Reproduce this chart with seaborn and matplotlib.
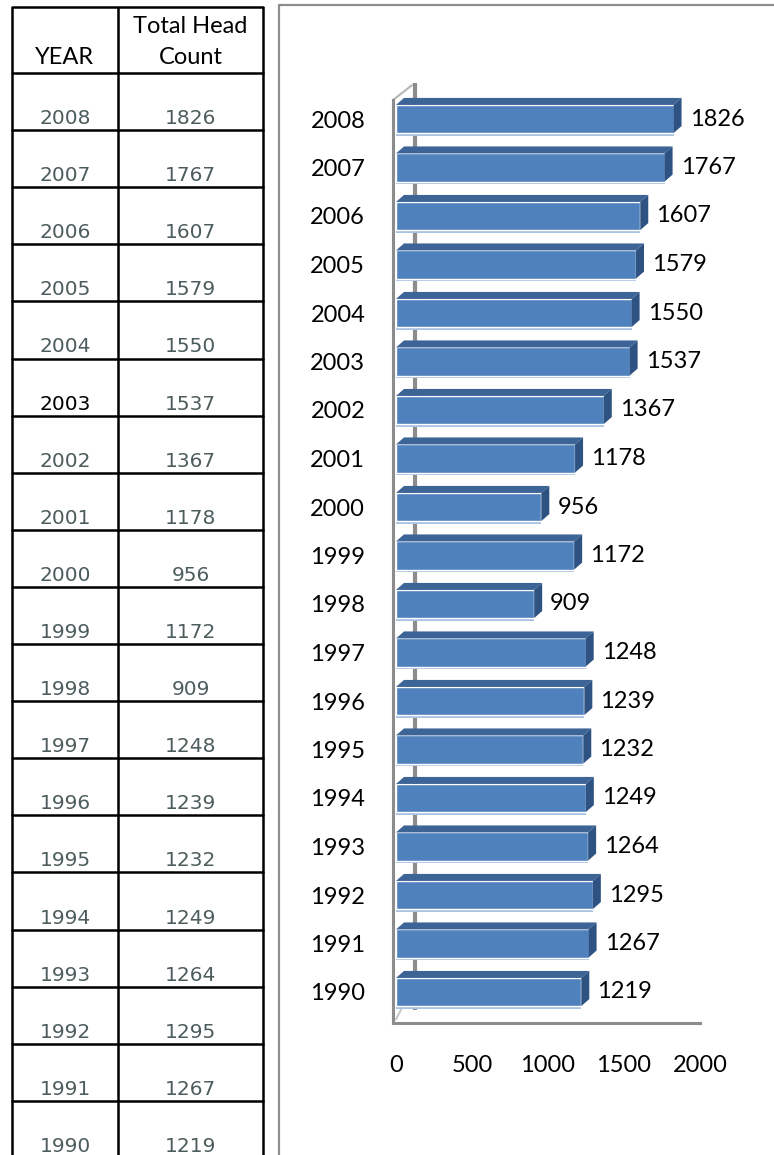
import matplotlib
matplotlib.use("Agg")
import matplotlib.pyplot as plt
from matplotlib.patches import Polygon, Rectangle
import pandas as pd
import seaborn as sns

years = [2008, 2007, 2006, 2005, 2004, 2003, 2002, 2001, 2000, 1999,
         1998, 1997, 1996, 1995, 1994, 1993, 1992, 1991, 1990]
counts = [1826, 1767, 1607, 1579, 1550, 1537, 1367, 1178, 956, 1172,
          909, 1248, 1239, 1232, 1249, 1264, 1295, 1267, 1219]
x_ticks = [0, 500, 1000, 1500, 2000]
header_year = "YEAR"
header_count = ["Total Head", "Count"]

df = pd.DataFrame({"year": [str(y) for y in years], "count": counts})

sns.set_theme(style="white")
plt.rcParams["font.family"] = ["Lato", "DejaVu Sans"]

W, H = 774, 1155
fig = plt.figure(figsize=(W / 100, H / 100), dpi=100)

# background layer in pixel units: table on the left, chart frame
tax = fig.add_axes([0, 0, 1, 1], zorder=0)
tax.set_xlim(0, W)
tax.set_ylim(H, 0)
tax.axis("off")

col_x = [12, 118, 263]
top_y, head_y, row_h = 7, 73, 57.1
for x in col_x:
    tax.plot([x, x], [top_y, H + 5], color="black", lw=1.8, solid_capstyle="butt")
tax.plot([col_x[0], col_x[-1]], [top_y, top_y], color="black", lw=1.8)
for k in range(len(years)):
    y = head_y + row_h * k
    tax.plot([col_x[0], col_x[-1]], [y, y], color="black", lw=1.8)

c1 = (col_x[0] + col_x[1]) / 2
c2 = (col_x[1] + col_x[2]) / 2
tax.text(c1, 64, header_year, ha="center", va="baseline", fontsize=17, color="black")
tax.text(c2, 33, header_count[0], ha="center", va="baseline", fontsize=17, color="black")
tax.text(c2, 64, header_count[1], ha="center", va="baseline", fontsize=17, color="black")

gray_txt = "#4d5c5c"
for k, (yr, ct) in enumerate(zip(years, counts)):
    base = head_y + row_h * (k + 1) - 6
    ycol = "black" if yr == 2003 else gray_txt
    tax.text(c1, base, str(yr), ha="center", va="baseline", fontsize=14.5,
             color=ycol, family="DejaVu Sans")
    tax.text(c2, base, str(ct), ha="center", va="baseline", fontsize=14.5,
             color=gray_txt, family="DejaVu Sans")

frame = "#8e8e8e"
tax.plot([279, 279], [5, H + 5], color=frame, lw=1.6)
tax.plot([279, W + 5], [5, 5], color=frame, lw=1.6)

# chart
ax_l, ax_r, ax_t, ax_b = 393, 700, 100, 1023
ax = fig.add_axes([ax_l / W, (H - ax_b) / H, (ax_r - ax_l) / W, (ax_b - ax_t) / H], zorder=1)
ax.patch.set_alpha(0)

sns.barplot(data=df, y="year", x="count", order=df["year"], orient="h",
            color="#4f81bd", saturation=1, width=0.58, ax=ax, zorder=3)

px_x = 0.152   # pixels per data unit
px_y = 48.5    # pixels per category
x0_px = 396
ax.set_xlim((ax_l - x0_px) / px_x, (ax_r - x0_px) / px_x)
ax.set_ylim(18 + (ax_b - 992) / px_y, -(119 - ax_t) / px_y)

dx = 8 / px_x
dy = 7 / px_y
for p in ax.patches:
    x0, y0, w, h = p.get_x(), p.get_y(), p.get_width(), p.get_height()
    top = Polygon([(x0, y0), (x0 + dx, y0 - dy), (x0 + w + dx, y0 - dy), (x0 + w, y0)],
                  closed=True, facecolor="#3d6496", edgecolor="none", zorder=4, clip_on=False)
    side = Polygon([(x0 + w, y0), (x0 + w + dx, y0 - dy), (x0 + w + dx, y0 + h - dy), (x0 + w, y0 + h)],
                   closed=True, facecolor="#2e5281", edgecolor="none", zorder=4, clip_on=False)
    shine = Rectangle((x0, y0 + h - 0.04), w, 0.1, facecolor="#a9c2e2",
                      edgecolor="none", zorder=2.5)
    ax.add_patch(top)
    ax.add_patch(side)
    ax.add_patch(shine)

ax.bar_label(ax.containers[0], labels=[str(c) for c in counts], padding=11.5,
             fontsize=17, color="black")

# wall lines
wall_x = (415 - ax_l) / (ax_r - ax_l)
ax.plot([wall_x, wall_x], [0.014, 1.018], transform=ax.transAxes, color="#8c8c8c",
        lw=3, zorder=1, clip_on=False, solid_capstyle="butt")
ax.plot([0.0, wall_x - 0.01], [1.0, 1.016], transform=ax.transAxes, color="#b5b5b5",
        lw=1.5, zorder=1, clip_on=False)
ax.plot([0.01, 0.05], [0.004, 0.03], transform=ax.transAxes, color="#c8c8c8",
        lw=1.5, zorder=1, clip_on=False)

for s in ["top", "right"]:
    ax.spines[s].set_visible(False)
for s in ["left", "bottom"]:
    ax.spines[s].set_color("#8c8c8c")
    ax.spines[s].set_linewidth(2.2)

ax.set_xticks(x_ticks)
ax.set_xticklabels([str(t) for t in x_ticks])
ax.tick_params(axis="x", length=0, pad=23, labelsize=17, colors="black")
ax.tick_params(axis="y", length=0, pad=20, labelsize=17, colors="black")
ax.set_xlabel("")
ax.set_ylabel("")

fig.savefig("out.png", dpi=100)
